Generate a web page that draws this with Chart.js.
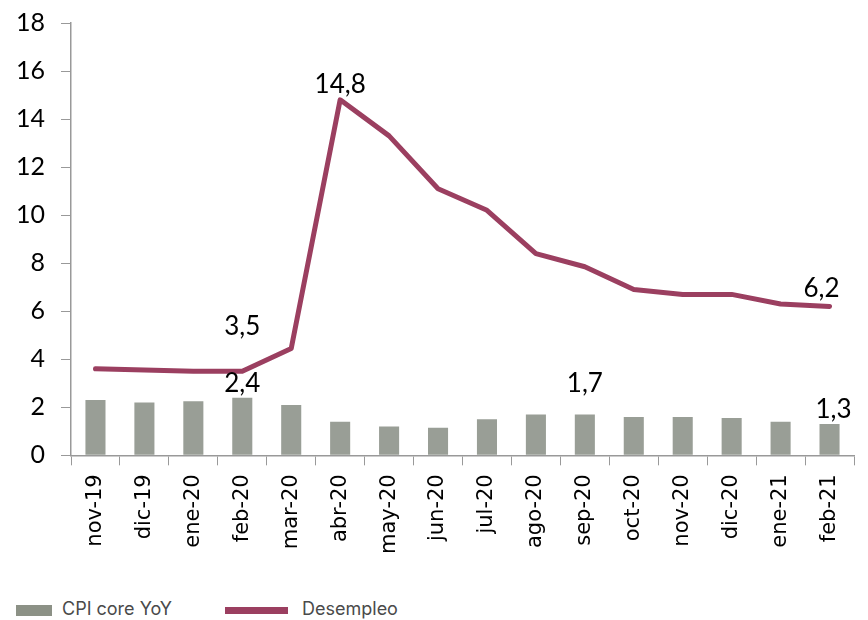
<!DOCTYPE html>
<html>
<head>
<meta charset="utf-8">
<script src="https://cdn.jsdelivr.net/npm/chart.js@4.4.1/dist/chart.umd.min.js"></script>
<style>
    body { margin: 0; background: #fff; }
    #wrap { position: relative; width: 868px; height: 572px; }
    .legend { position: absolute; top: 595px; left: 16px; font-family: Inter, "Open Sans", sans-serif; font-size: 18px; color: #4a4a4a; }
    .legend span { position: absolute; white-space: nowrap; }
    .box { display: inline-block; }
</style>
</head>
<body>
<div id="wrap"><canvas id="chart" width="868" height="563"></canvas></div>
<div class="legend">
    <span style="left:0; top:3px;"><i class="box" style="width:36px;height:11px;background:#8c9186;vertical-align:middle;margin-right:10px;"></i>CPI core YoY</span>
    <span style="left:209px; top:3px;"><i class="box" style="width:63px;height:7px;background:#9b3f60;vertical-align:middle;margin-right:14px;"></i>Desempleo</span>
</div>
<script>
const months = ['nov-19', 'dic-19', 'ene-20', 'feb-20', 'mar-20', 'abr-20', 'may-20', 'jun-20',
    'jul-20', 'ago-20', 'sep-20', 'oct-20', 'nov-20', 'dic-20', 'ene-21', 'feb-21'];
const cpiCore = [2.3, 2.2, 2.25, 2.4, 2.1, 1.4, 1.2, 1.15, 1.5, 1.7, 1.7, 1.6, 1.6, 1.55, 1.4, 1.3];
const desempleo = [3.6, 3.55, 3.5, 3.5, 4.45, 14.8, 13.3, 11.1, 10.2, 8.4, 7.85, 6.9, 6.7, 6.7, 6.3, 6.2];
const yTicks = [0, 2, 4, 6, 8, 10, 12, 14, 16, 18];

// which points get a value label
const cpiLabelIdx = [3, 10, 15];
const desLabelIdx = [3, 5, 15];

function fmt(v) {
    return v.toFixed(1).replace('.', ',');
}

const valueLabels = {
    id: 'valueLabels',
    afterDatasetsDraw(chart) {
        const ctx = chart.ctx;
        ctx.save();
        ctx.font = '26px Lato, sans-serif';
        ctx.fillStyle = '#000';
        ctx.textAlign = 'center';
        ctx.textBaseline = 'bottom';
        const barMeta = chart.getDatasetMeta(0);
        cpiLabelIdx.forEach(i => {
            const el = barMeta.data[i];
            let x = el.x;
            if (i === cpiCore.length - 1) x += 4;
            ctx.fillText(fmt(cpiCore[i]), x, el.y - (i === 10 ? 18 : 1));
        });
        const lineMeta = chart.getDatasetMeta(1);
        desLabelIdx.forEach(i => {
            const el = lineMeta.data[i];
            let x = el.x;
            if (i === desempleo.length - 1) x -= 8;
            let dy = 32;
            if (i === 5) dy = 2;
            if (i === 15) dy = 5;
            ctx.fillText(fmt(desempleo[i]), x, el.y - dy);
        });
        ctx.restore();
    }
};

new Chart(document.getElementById('chart').getContext('2d'), {
    type: 'bar',
    plugins: [valueLabels],
    data: {
        labels: months,
        datasets: [
            {
                type: 'bar',
                label: 'CPI core YoY',
                data: cpiCore,
                backgroundColor: '#999e96',
                barPercentage: 0.82,
                categoryPercentage: 0.5,
                order: 2
            },
            {
                type: 'line',
                label: 'Desempleo',
                data: desempleo,
                borderColor: '#9b3f60',
                borderWidth: 5,
                pointRadius: 0,
                tension: 0,
                borderCapStyle: 'round',
                borderJoinStyle: 'round',
                order: 1
            }
        ]
    },
    options: {
        responsive: false,
        animation: false,
        layout: { padding: { left: 0, right: 14, top: 0, bottom: 0 } },
        plugins: {
            legend: { display: false },
            tooltip: { enabled: false }
        },
        scales: {
            x: {
                offset: true,
                grid: { drawOnChartArea: false, drawTicks: true, tickLength: 10, color: '#999', offset: true },
                border: { color: '#999', width: 1.5 },
                ticks: {
                    color: '#000',
                    font: { family: '"DejaVu Sans", sans-serif', size: 21 },
                    minRotation: 90,
                    maxRotation: 90,
                    autoSkip: false,
                    padding: 9
                }
            },
            y: {
                min: 0,
                max: 18,
                afterBuildTicks(axis) {
                    axis.ticks = yTicks.map(v => ({ value: v }));
                },
                afterFit(axis) {
                    // keep the top tick close to the canvas edge
                    axis.paddingTop = 23;
                },
                grid: { drawOnChartArea: false, drawTicks: true, tickLength: 10, color: '#999' },
                border: { color: '#999', width: 1.5 },
                ticks: {
                    color: '#000',
                    font: { family: 'Lato, sans-serif', size: 25 },
                    padding: 16
                }
            }
        }
    }
});
</script>
</body>
</html>
